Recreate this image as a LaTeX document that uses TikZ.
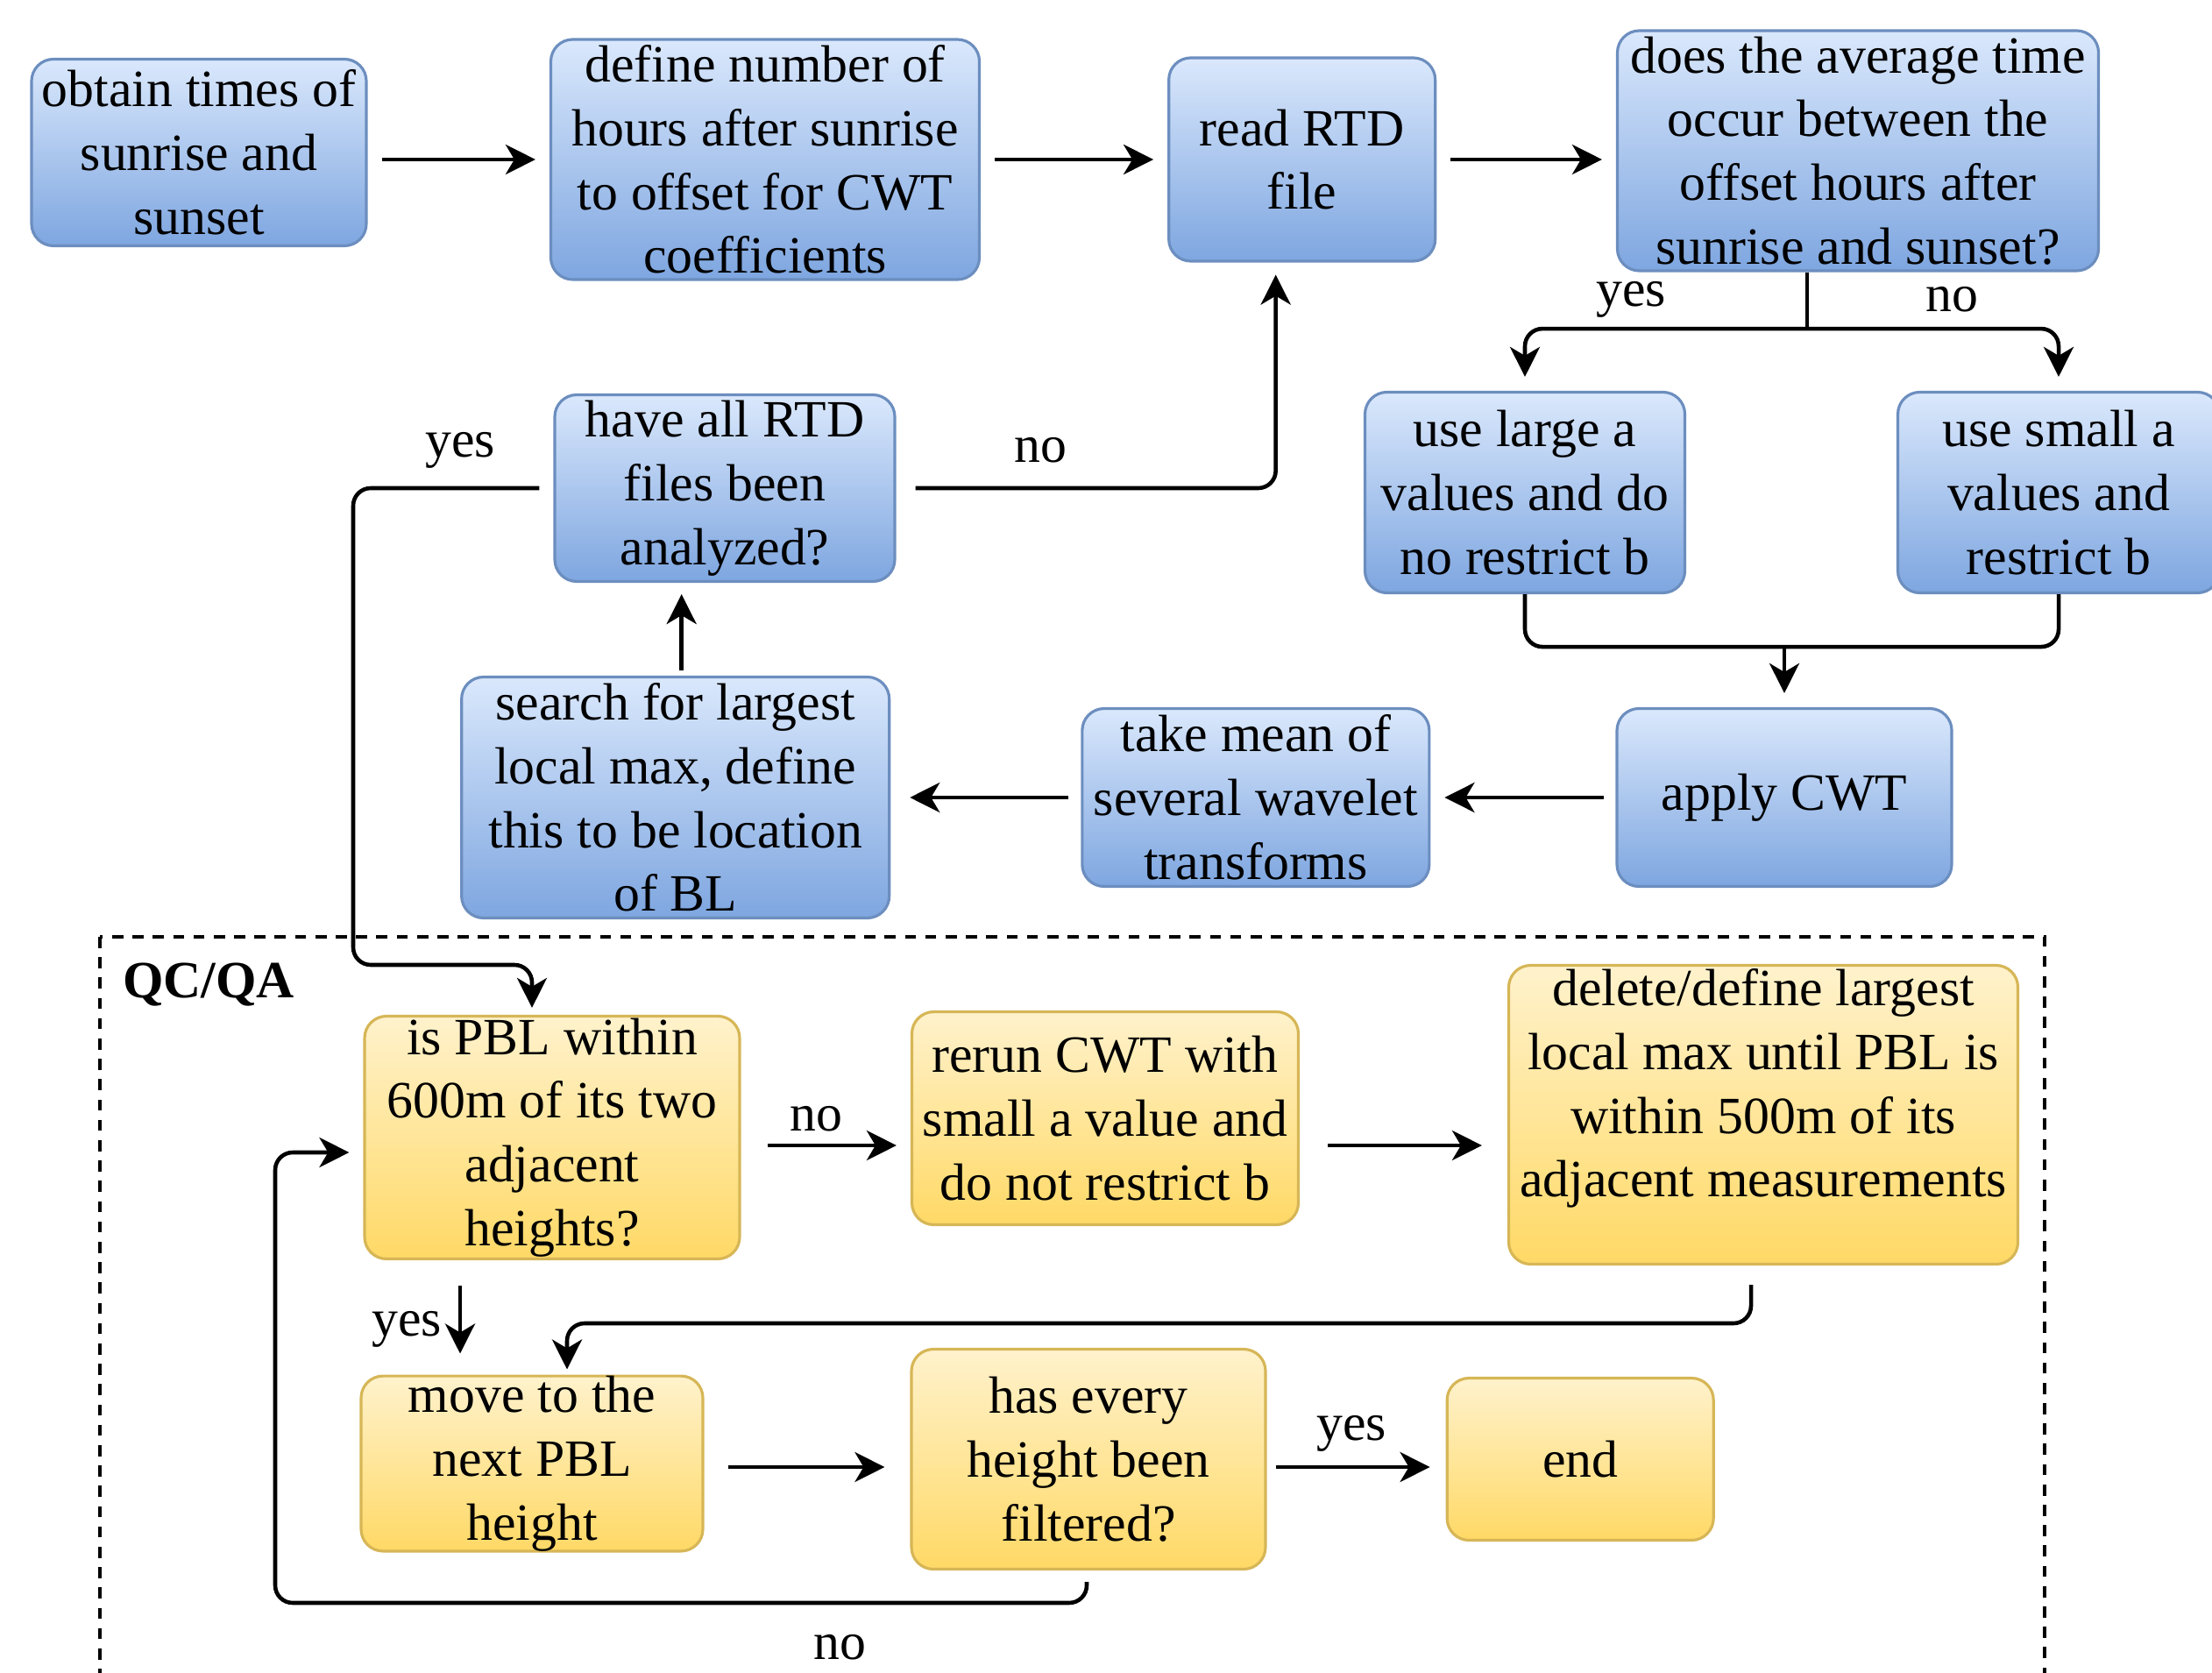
\documentclass[tikz,border=0pt]{standalone}
\usepackage{fontspec}
\setmainfont{Liberation Serif}
\usepackage{tikz}
\usetikzlibrary{arrows.meta}
\usetikzlibrary{positioning}
\usetikzlibrary{calc}
\definecolor{blueTop}{HTML}{DAE8FC}
\definecolor{blueBottom}{HTML}{7EA6E0}
\definecolor{blueEdge}{HTML}{6C8EBF}
\definecolor{yellowTop}{HTML}{FFF2CC}
\definecolor{yellowBottom}{HTML}{FFD966}
\definecolor{yellowEdge}{HTML}{D6B656}
\tikzstyle{flow} = [draw, line width=1.3pt, -{Stealth[length=0.34cm, width=0.34cm, inset=0.1cm]}, shorten <=0.16cm, shorten >=0.16cm]

\begin{document}
\begin{tikzpicture}[bluebox/.style={draw=blueEdge, line width=0.9pt, rounded corners=0.25cm, top color=blueTop, bottom color=blueBottom, inner sep=0pt},
        yellowbox/.style={draw=yellowEdge, line width=0.9pt, rounded corners=0.25cm, top color=yellowTop, bottom color=yellowBottom, inner sep=0pt},
        tag/.style={inner sep=0pt},
        every text node part/.style={align=center},
        font=\fontsize{17}{20.7}\selectfont]
        \useasboundingbox (0,0) rectangle (25.24,-19.09);

        \node[bluebox, minimum width=3.82cm, minimum height=2.13cm](obtain) at (2.27, -1.74) {obtain times of\\sunrise and\\sunset};
        \node[bluebox, minimum width=4.89cm, minimum height=2.74cm](define) at (8.73, -1.82) {define number of\\hours after sunrise\\to offset for CWT\\coefficients};
        \node[bluebox, minimum width=3.04cm, minimum height=2.32cm, right=2.13cm of define](read) {read RTD\\file};
        \node[bluebox, minimum width=5.49cm, minimum height=2.74cm](does) at (21.20, -1.72) {does the average time\\occur between the\\offset hours after\\sunrise and sunset?};
        \node[bluebox, minimum width=3.65cm, minimum height=2.29cm](large) at (17.40, -5.62) {use large a\\values and do\\no restrict b};
        \node[bluebox, minimum width=3.67cm, minimum height=2.29cm](small) at (23.49, -5.62) {use small a\\values and\\restrict b};
        \node[bluebox, minimum width=3.82cm, minimum height=2.03cm](apply) at (20.36, -9.10) {apply CWT};
        \node[bluebox, minimum width=3.96cm, minimum height=2.03cm, left=2.11cm of apply](mean) {take mean of\\several wavelet\\transforms};
        \node[bluebox, minimum width=4.88cm, minimum height=2.75cm, left=2.17cm of mean](search) {search for largest\\local max, define\\this to be location\\of BL};
        \node[bluebox, minimum width=3.88cm, minimum height=2.13cm](have) at (8.27, -5.57) {have all RTD\\files been\\analyzed?};

        \draw[dashed, line width=0.9pt, dash pattern=on 3.6pt off 3pt] (1.14, -10.69) rectangle (23.33, -19.6);
        \node[font=\fontsize{17}{20.7}\selectfont\bfseries](qcqa) at (2.38, -11.24) {QC/QA};

        \node[yellowbox, minimum width=4.28cm, minimum height=2.77cm](pbl) at (6.30, -12.98) {is PBL within\\600m of its two\\adjacent\\heights?};
        \node[yellowbox, minimum width=4.41cm, minimum height=2.43cm](rerun) at (12.61, -12.76) {rerun CWT with\\small a value and\\do not restrict b};
        \node[yellowbox, minimum width=5.81cm, minimum height=3.41cm](delete) at (20.12, -12.72) {delete/define largest\\local max until PBL is\\within 500m of its\\adjacent measurements\\[0cm]};
        \node[yellowbox, minimum width=3.90cm, minimum height=1.95cm](move) at (6.07, -16.70) {move to the\\next PBL\\height};
        \node[yellowbox, minimum width=4.04cm, minimum height=2.51cm](has) at (12.42, -16.65) {has every\\height been\\filtered?};
        \node[yellowbox, minimum width=3.04cm, minimum height=1.85cm, right=2.04cm of has](end) {end};

        \draw[flow] (obtain.east |- define.west) -- (define.west);
        \draw[flow] (define.east) -- (define.east -| read.west);
        \draw[flow] (read.east) -- (read.east -| does.west);

        \coordinate (fork) at ($(does.south)+(-0.58, -0.645)$);
        \draw[line width=1.3pt] (fork |- does.south) -- (fork);
        \draw[flow, rounded corners=0.2cm, shorten <=0pt] (fork) -| (large.north);
        \draw[flow, rounded corners=0.2cm, shorten <=0pt] (fork) -| (small.north);
        \node[tag](yesfork) at (18.61, -3.42) {yes};
        \node[tag](nofork) at (22.27, -3.42) {no};

        \coordinate (join) at ($(large.south)+(0, -0.6)$);
        \draw[line width=1.3pt, rounded corners=0.2cm] (large.south) -- (join) -| (small.south);
        \draw[flow, shorten <=0pt] (join -| apply.north) -- (apply.north);

        \draw[flow, shorten <=0.13cm] (apply.west) -- (apply.west -| mean.east);
        \draw[flow, shorten <=0.14cm, shorten >=0.22cm] (mean.west) -- (mean.west -| search.east);
        \draw[flow, shorten <=0.06cm, shorten >=0.13cm] ([xshift=0.07cm]search.north) -- ([xshift=0.07cm]search.north |- have.south);

        \draw[flow, rounded corners=0.2cm, shorten <=0.22cm, shorten >=0.14cm] (have.east) -| ([xshift=-0.3cm]read.south);
        \node[tag](nohave) at (11.87, -5.14) {no};

        \coordinate (yesturn) at (4.03, -11.01);
        \draw[flow, rounded corners=0.2cm, shorten <=0.16cm, shorten >=0.08cm] (have.west) -| (yesturn) -| ([xshift=-0.23cm]pbl.north);
        \node[tag](yeshave) at (5.25, -5.14) {yes};

        \draw[flow, shorten <=0.3cm] ([yshift=-0.09cm]pbl.east) -- ([yshift=-0.09cm]pbl.east -| rerun.west);
        \node[tag](nopbl) at (9.31, -12.77) {no};
        \draw[flow, shorten <=0.32cm, shorten >=0.29cm] ([yshift=-0.31cm]rerun.east) -- ([yshift=-0.31cm]rerun.east -| delete.west);

        \coordinate (back) at (6.47, -15.10);
        \draw[flow, rounded corners=0.2cm, shorten <=0.22cm, shorten >=0.06cm] ([xshift=-0.14cm]delete.south) |- (back) -- ([xshift=0.4cm]move.north);

        \draw[flow, shorten <=0.29cm, shorten >=0.24cm] ([xshift=-1.05cm]pbl.south) -- ([xshift=-1.05cm]pbl.south |- move.north);
        \node[tag](yespbl) at (4.64, -15.17) {yes};

        \draw[flow, shorten <=0.27cm, shorten >=0.29cm] ([yshift=-0.04cm]move.east) -- ([yshift=-0.04cm]move.east -| has.west);
        \draw[flow, shorten <=0.1cm, shorten >=0.18cm] ([yshift=-0.09cm]has.east) -- ([yshift=-0.09cm]has.east -| end.west);
        \node[tag](yeshas) at (15.42, -16.36) {yes};

        \coordinate (loopback) at (3.14, -18.29);
        \draw[flow, rounded corners=0.2cm, shorten <=0.13cm, shorten >=0.16cm] ([xshift=-0.02cm]has.south) |- (loopback) |- ([yshift=-0.17cm]pbl.west);
        \node[tag](nohas) at (9.58, -18.80) {no};
\end{tikzpicture}
\end{document}
